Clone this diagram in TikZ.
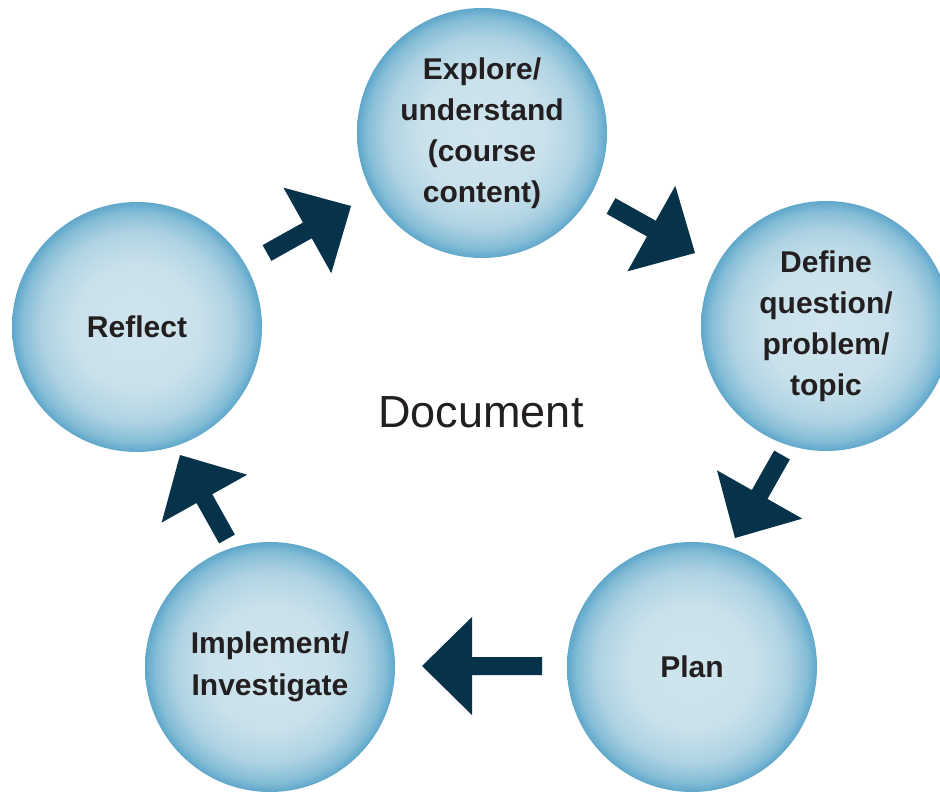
\documentclass[tikz,border=0pt]{standalone}
\usepackage{fontspec}
\setmainfont{Liberation Sans}
\usetikzlibrary{calc}
\definecolor{navy}{HTML}{06324A}
\definecolor{txt}{HTML}{231F20}
\definecolor{ballA}{HTML}{D0E5EE}
\definecolor{ballB}{HTML}{C9E1EB}
\definecolor{ballC}{HTML}{AFD3E3}
\definecolor{ballD}{HTML}{85BDD7}
\definecolor{ballE}{HTML}{5FA7CA}
\pgfdeclareradialshading{ball}{\pgfpoint{0bp}{0bp}}{color(0bp)=(ballA); color(12.5bp)=(ballB); color(19bp)=(ballC); color(23bp)=(ballD); color(25bp)=(ballE); color(50bp)=(ballE)}
\newcommand{\blockarrow}[2]{%
  \coordinate (bb) at ($(#2)!50pt!(#1)$);
  \fill[arrowfill] ($(#1)!9pt!90:(#2)$) -- ($(bb)!9pt!90:(#2)$) -- ($(bb)!49pt!90:(#2)$) -- (#2)
    -- ($(bb)!49pt!-90:(#2)$) -- ($(bb)!9pt!-90:(#2)$) -- ($(#1)!9pt!-90:(#2)$) -- cycle;}
\begin{document}
\begin{tikzpicture}[x=1pt,y=-1pt,
  ball/.style={circle, minimum size=250pt, inner sep=0pt, shading=ball, text=txt, align=center},
  fourline/.style={font=\bfseries\fontsize{30}{41}\selectfont},
  twoline/.style={font=\bfseries\fontsize{30}{42}\selectfont},
  arrowfill/.style={fill=navy}]
\fill[white] (0,0) rectangle (940,792);
\useasboundingbox (0,0) rectangle (940,792);
\node[ball, fourline] (explore) at (482,133) {Explore/\\understand\\(course\\content)};
\node[ball, fourline] (define) at (826,326) {Define\\question/\\problem/\\topic};
\node[ball, twoline] (plan) at (692,667) {Plan};
\node[ball, twoline] (impl) at (270,667) {Implement/\\Investigate};
\node[ball, twoline] (reflect) at (137,327) {Reflect};
\node[text=txt, font=\fontsize{45}{52}\selectfont, anchor=base] (doc) at (481,427) {Document};
\coordinate (a1s) at (267,253); \coordinate (a1e) at (351,206);
\coordinate (a2s) at (611,206); \coordinate (a2e) at (695,253);
\coordinate (a3s) at (782,455); \coordinate (a3e) at (735,538);
\coordinate (a4s) at (542,666); \coordinate (a4e) at (422,666);
\coordinate (a5s) at (227,539); \coordinate (a5e) at (180,455);
\blockarrow{a1s}{a1e}
\blockarrow{a2s}{a2e}
\blockarrow{a3s}{a3e}
\blockarrow{a4s}{a4e}
\blockarrow{a5s}{a5e}
\end{tikzpicture}
\end{document}
